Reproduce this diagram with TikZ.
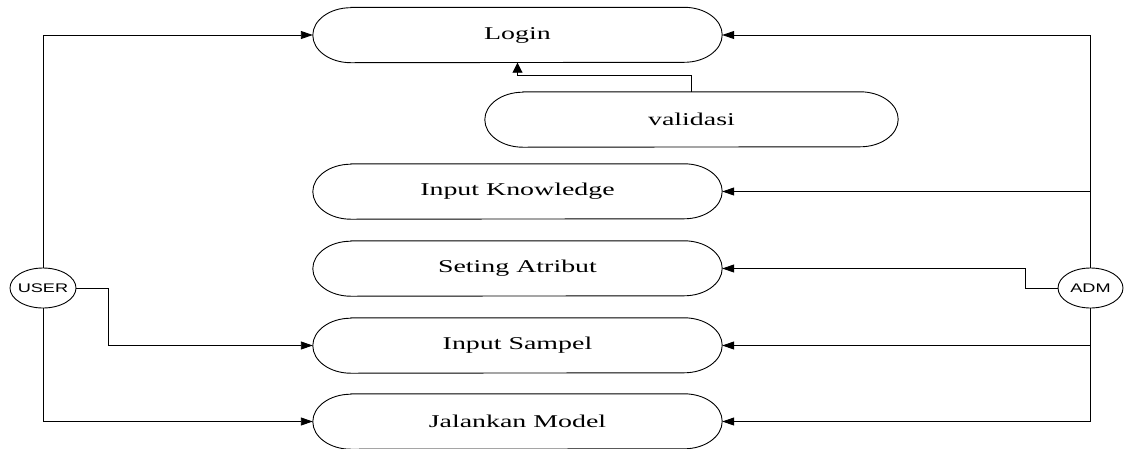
\documentclass[tikz,border=0pt]{standalone}
\usepackage{fontspec}
\usetikzlibrary{arrows.meta,shapes.geometric}
\newfontfamily\lblfont[FakeStretch=1.55]{Liberation Serif}
\newfontfamily\actfont[FakeStretch=1.45]{Liberation Sans}
\tikzset{
  ucnode/.style={minimum height=55pt, inner sep=0pt,
    font=\lblfont\fontsize{18}{20}\selectfont},
  ucline/.style={line width=0.9pt},
  actor/.style={draw, ellipse, line width=0.9pt, minimum width=66pt,
    minimum height=40pt, inner xsep=-6pt, inner ysep=0pt,
    font=\actfont\fontsize{12.5}{14}\selectfont},
  link/.style={line width=0.9pt, -{Triangle[length=12pt,width=8pt]}},
  uplink/.style={line width=0.9pt, -{Triangle[length=10pt,width=10pt]}},
}
% use case: a box with half-ellipse ends (name, centre, width, label)
\newcommand\ucase[4]{%
  \node[ucnode, minimum width=#3pt] (#1) at (#2) {#4};
  \draw[ucline] ([xshift=38pt]#1.north west) -- ([xshift=-38pt]#1.north east)
    arc[start angle=-90, end angle=90, x radius=38, y radius=27.5]
    -- ([xshift=38pt]#1.south west)
    arc[start angle=90, end angle=270, x radius=38, y radius=27.5] -- cycle;}
\begin{document}
\begin{tikzpicture}[x=1pt,y=-1pt]
  \useasboundingbox (0,0) rectangle (1124,448);

  % use cases
  \ucase{login}{517.5,35}{409}{Login}
  \ucase{validasi}{691.5,119.5}{413}{validasi}
  \ucase{know}{517.5,191.5}{409}{Input Knowledge}
  \ucase{seting}{517.5,268.5}{409}{Seting Atribut}
  \ucase{sampel}{517.5,345.5}{409}{Input Sampel}
  \ucase{jalankan}{517.5,421.5}{409}{Jalankan Model}

  % actors
  \node[actor] (user) at (43,288) {USER};
  \node[actor, minimum width=65pt] (adm) at (1090.5,288) {ADM};

  % validation feeds back into login
  \draw[uplink] (validasi.north) -- ++(0,-16) -| (login.south);

  % USER connections
  \draw[link] (user.north) |- (login.west);
  \draw[link] (user.east) -- ++(32,0) |- (sampel.west);
  \draw[link] (user.south) |- (jalankan.west);

  % ADM connections
  \draw[link] (adm.north) |- (login.east);
  \draw[link] (adm.north) |- (know.east);
  \draw[link] (adm.west) -- ++(-32,0) |- (seting.east);
  \draw[link] (adm.south) |- (sampel.east);
  \draw[link] (adm.south) |- (jalankan.east);
\end{tikzpicture}
\end{document}
